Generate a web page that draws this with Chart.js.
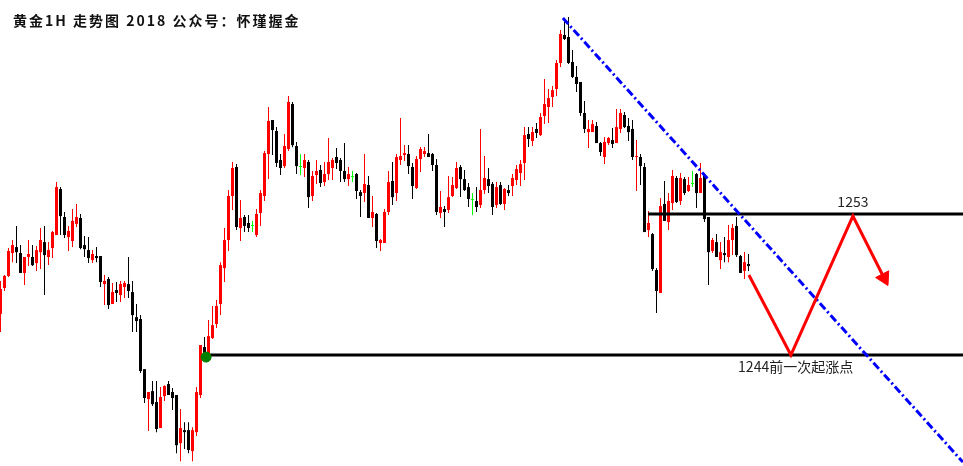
<!DOCTYPE html>
<html>
<head>
<meta charset="utf-8">
<title>黄金1H 走势图</title>
<script src="https://cdn.jsdelivr.net/npm/chart.js@4.4.1/dist/chart.umd.min.js"></script>
<style>
  html, body { margin: 0; padding: 0; background: #fff; }
  canvas { display: block; }
</style>
</head>
<body>
<canvas id="chart" width="963" height="466"></canvas>
<script>
// gold 1H candles
const opens = [
  1246.62,1248.28,1249.05,1250.51,1250.89,1250.51,1249.24,1250.26,1250.26,1249.87,
  1250.57,1251.21,1250.26,1250.83,1251.66,1254.60,1252.81,1251.53,1251.28,1252.37,
  1252.75,1251.02,1250.70,1250.06,1250.32,1250.32,1248.53,1248.86,1247.26,1248.15,
  1247.83,1248.34,1248.53,1248.02,1246.42,1246.30,1243.10,1241.19,1241.70,1241.00,
  1239.34,1241.38,1242.15,1241.64,1241.45,1238.38,1239.21,1239.21,1237.87,1239.08,
  1241.45,1244.51,1244.13,1245.09,1245.98,1247.26,1249.55,1251.34,1254.15,1256.00,
  1252.11,1252.81,1252.43,1252.24,1251.66,1253.07,1254.15,1256.83,1259.00,1258.30,
  1256.45,1256.06,1257.15,1260.02,1257.34,1256.00,1255.94,1256.32,1254.15,1255.49,
  1255.81,1255.04,1255.55,1255.94,1256.64,1256.45,1255.75,1255.23,1255.36,1255.55,
  1254.40,1254.34,1254.85,1252.75,1253.00,1251.15,1251.15,1253.13,1255.11,1254.34,
  1256.45,1256.77,1256.83,1256.00,1254.66,1256.51,1256.83,1256.89,1256.83,1256.13,
  1253.07,1253.32,1253.26,1254.15,1254.66,1256.00,1255.23,1254.72,1253.89,1253.83,
  1253.58,1254.53,1255.23,1254.92,1253.58,1254.85,1253.64,1254.53,1254.79,1255.17,
  1255.62,1256.26,1258.11,1257.66,1258.43,1258.04,1259.26,1259.83,1260.47,1260.98,
  1262.64,1264.43,1264.30,1262.70,1261.75,1261.43,1259.45,1258.23,1258.23,1258.62,
  1257.53,1256.64,1257.53,1257.72,1257.53,1258.43,1259.32,1258.62,1258.43,1256.64,
  1256.64,1256.00,1251.98,1251.72,1249.43,1247.96,1253.64,1252.49,1253.70,1255.30,
  1253.83,1255.23,1254.47,1254.92,1255.55,1254.34,1255.43,1252.81,1250.64,1251.21,
  1250.06,1250.51,1250.26,1251.34,1252.24,1250.32,1249.37,1249.81
];
const highs = [
  1248.73,1249.11,1250.83,1251.34,1252.24,1251.02,1250.26,1251.34,1251.02,1250.96,
  1252.11,1252.24,1251.21,1251.92,1255.04,1254.72,1253.13,1252.24,1253.32,1253.64,
  1253.00,1251.60,1251.53,1250.70,1250.89,1250.32,1249.11,1248.98,1248.60,1248.66,
  1248.73,1248.73,1250.26,1248.73,1247.26,1246.55,1243.10,1241.64,1242.34,1242.34,
  1241.96,1242.08,1242.34,1241.89,1241.45,1240.55,1239.72,1239.72,1239.40,1241.96,
  1244.64,1245.15,1246.23,1247.13,1247.51,1249.93,1252.11,1254.53,1256.32,1256.19,
  1253.89,1252.94,1252.94,1252.56,1253.32,1254.53,1257.02,1259.83,1259.00,1258.55,
  1256.83,1258.11,1260.53,1260.15,1257.60,1256.83,1256.83,1256.45,1255.75,1256.45,
  1256.13,1256.32,1257.85,1256.57,1257.21,1256.57,1257.53,1256.00,1255.75,1255.62,
  1254.53,1256.83,1255.43,1254.15,1253.07,1251.41,1253.32,1255.75,1256.32,1256.83,
  1259.13,1257.40,1257.40,1256.26,1256.70,1257.28,1257.28,1258.11,1256.89,1256.51,
  1254.47,1253.51,1255.43,1255.36,1256.32,1256.13,1255.81,1254.98,1254.34,1254.72,
  1258.43,1256.70,1255.94,1255.04,1255.04,1255.04,1254.66,1254.85,1255.55,1256.13,
  1256.45,1258.55,1258.55,1258.55,1258.81,1259.45,1261.62,1260.98,1261.17,1262.83,
  1264.75,1265.38,1265.57,1263.47,1262.45,1261.43,1260.21,1259.00,1259.00,1258.87,
  1257.60,1257.92,1257.92,1258.49,1259.70,1259.70,1259.51,1259.13,1259.00,1257.72,
  1256.83,1256.26,1253.19,1251.79,1249.55,1254.02,1255.11,1254.34,1255.81,1255.43,
  1255.62,1255.36,1255.36,1255.75,1255.62,1256.26,1255.62,1252.81,1251.47,1251.72,
  1251.21,1251.53,1252.30,1252.37,1252.81,1250.38,1250.57,1250.45
];
const lows = [
  1245.47,1248.09,1248.98,1249.93,1249.87,1249.24,1248.47,1249.68,1249.68,1249.37,
  1249.49,1247.83,1249.74,1250.19,1251.66,1251.66,1251.47,1250.64,1250.89,1252.17,
  1250.76,1250.26,1249.87,1249.87,1249.93,1248.34,1247.19,1246.94,1247.26,1247.38,
  1247.38,1247.64,1247.64,1245.47,1245.47,1242.85,1240.94,1239.15,1240.75,1239.08,
  1239.34,1241.07,1241.45,1240.49,1237.74,1237.23,1238.00,1237.74,1237.23,1238.83,
  1241.26,1244.00,1243.87,1245.02,1245.72,1246.55,1248.66,1250.64,1253.26,1251.98,
  1251.28,1251.85,1251.85,1251.85,1251.53,1252.24,1253.83,1255.23,1256.77,1256.00,
  1255.49,1255.94,1257.02,1257.27,1255.55,1255.49,1255.36,1253.38,1253.83,1254.92,
  1254.72,1254.79,1255.17,1255.17,1255.87,1255.04,1255.04,1254.79,1255.04,1253.96,
  1252.81,1253.77,1252.75,1252.17,1250.83,1250.64,1251.15,1252.94,1253.58,1253.83,
  1256.13,1256.38,1255.55,1253.96,1254.60,1255.68,1256.64,1256.64,1255.75,1252.94,
  1252.75,1252.17,1253.07,1254.08,1254.60,1254.08,1254.47,1253.45,1252.94,1253.13,
  1253.38,1254.28,1254.34,1252.94,1253.38,1253.58,1253.26,1254.15,1254.15,1254.85,
  1254.79,1255.17,1257.28,1257.34,1257.85,1257.98,1258.74,1258.81,1259.83,1260.53,
  1262.38,1264.11,1262.57,1261.68,1260.79,1259.26,1258.17,1257.21,1258.23,1257.53,
  1256.70,1256.19,1257.40,1257.21,1257.53,1258.17,1258.49,1257.66,1256.45,1254.47,
  1254.85,1251.85,1251.53,1249.37,1246.68,1247.96,1252.56,1251.98,1253.26,1253.70,
  1253.58,1254.21,1254.40,1254.72,1253.38,1254.34,1252.49,1248.47,1250.51,1250.26,
  1249.49,1249.93,1249.93,1250.38,1250.26,1249.24,1248.86,1249.37
];
const closes = [
  1248.21,1249.05,1250.64,1251.02,1250.57,1249.24,1250.26,1250.45,1249.74,1250.70,
  1251.34,1250.38,1250.70,1251.85,1254.72,1252.87,1251.66,1251.92,1252.56,1252.81,
  1250.83,1250.76,1250.19,1250.45,1250.19,1248.66,1248.73,1247.19,1248.02,1247.96,
  1248.53,1248.60,1248.09,1246.55,1246.17,1242.98,1241.26,1241.64,1240.87,1239.28,
  1241.32,1242.02,1241.45,1241.26,1238.25,1239.34,1239.08,1237.94,1239.21,1241.64,
  1244.64,1244.00,1245.21,1245.91,1247.13,1249.74,1251.34,1254.15,1255.94,1252.17,
  1252.75,1252.24,1252.11,1252.24,1253.00,1254.34,1256.89,1258.94,1258.36,1256.26,
  1255.94,1257.34,1260.15,1257.40,1256.06,1256.00,1256.45,1254.08,1255.43,1255.75,
  1254.98,1255.55,1256.32,1256.45,1256.26,1255.75,1255.23,1255.55,1255.36,1254.47,
  1254.15,1254.92,1252.75,1253.13,1251.28,1251.34,1253.13,1255.04,1254.08,1256.64,
  1256.70,1256.89,1256.06,1254.79,1256.51,1257.15,1257.02,1256.64,1256.13,1253.13,
  1253.45,1253.13,1254.08,1254.85,1255.94,1255.23,1254.53,1253.96,1253.89,1253.45,
  1254.53,1255.30,1254.79,1253.45,1254.72,1253.64,1254.60,1254.34,1255.30,1255.87,
  1256.19,1258.04,1257.79,1258.23,1258.17,1259.19,1260.02,1260.40,1260.91,1262.64,
  1264.49,1264.17,1262.64,1261.75,1261.30,1259.45,1258.43,1258.43,1258.74,1257.53,
  1256.96,1257.60,1257.85,1257.47,1258.55,1259.45,1258.55,1258.23,1256.64,1256.70,
  1256.06,1251.85,1252.43,1249.49,1248.09,1253.51,1252.56,1253.83,1255.43,1253.77,
  1255.30,1254.34,1254.85,1254.92,1254.34,1255.30,1252.68,1250.57,1251.34,1250.26,
  1250.57,1250.38,1251.34,1252.11,1250.38,1249.24,1249.93,1249.68
];

// drawn levels and projection (x in candle index units)
const resistLevel = 1253;
const supportLevel = 1244;
const resistStartX = 161.9;
const supportStartX = 51.1;
const dotX = 51.4, dotY = 1243.87;
const trendX = [140.6, 240.6];
const trendY = [1265.51, 1237.17];
const pathX = [187.1, 197.6, 213.1, 220.9];
const pathY = [1249.11, 1244.00, 1252.87, 1248.92];

const titleText = '黄金1H 走势图 2018 公众号：怀瑾握金';
const resistLabel = '1253';
const supportLabel = '1244前一次起涨点';
const supportLabelX = 184.4;

const xMin = -0.125, xMax = 240.625;
const yMin = 1236.92, yMax = 1266.66;

function candleColor(i) {
    if (closes[i] > opens[i]) return '#ff0000';
    if (closes[i] < opens[i]) return '#000000';
    return '#00ff00';
}
const colors = opens.map((o, i) => candleColor(i));

const wicks = opens.map((o, i) => ({ x: i, y: [lows[i], highs[i]] }));
const bodies = opens.map((o, i) => ({ x: i, y: [opens[i], closes[i]] }));

const textPlugin = {
    id: 'texts',
    afterDatasetsDraw(chart) {
        const { ctx, scales: { x, y } } = chart;
        ctx.save();
        ctx.fillStyle = '#111';
        ctx.textBaseline = 'middle';
        ctx.font = 'bold 14px "Noto Sans CJK SC"';
        ctx.letterSpacing = '2px';
        ctx.fillText(titleText, 13, 21);
        ctx.letterSpacing = '0px';

        ctx.fillStyle = '#222';
        ctx.font = '14px "Noto Sans CJK SC"';
        ctx.textAlign = 'center';
        ctx.fillText(resistLabel, x.getPixelForValue(pathX[2]), y.getPixelForValue(resistLevel) - 12);
        ctx.textAlign = 'left';
        ctx.fillText(supportLabel, x.getPixelForValue(supportLabelX), y.getPixelForValue(supportLevel) + 12);
        ctx.restore();
    }
};

new Chart(document.getElementById('chart'), {
    type: 'bar',
    data: {
        datasets: [
            {
                type: 'line',
                data: [{ x: dotX, y: dotY }],
                showLine: false,
                pointRadius: 5,
                pointBackgroundColor: '#008000',
                pointBorderColor: '#008000',
                order: 0
            },
            {
                type: 'line',
                data: pathX.map((v, i) => ({ x: v, y: pathY[i] })),
                borderColor: '#ff0000',
                borderWidth: 3,
                pointRadius: [0, 0, 0, 8.5],
                pointStyle: 'triangle',
                pointRotation: 153,
                pointBackgroundColor: '#ff0000',
                pointBorderColor: '#ff0000',
                pointBorderWidth: 1,
                tension: 0,
                order: 1
            },
            {
                type: 'line',
                data: trendX.map((v, i) => ({ x: v, y: trendY[i] })),
                borderColor: '#0000ff',
                borderWidth: 3,
                borderDash: [8, 3, 2, 3],
                pointRadius: 0,
                order: 1
            },
            {
                type: 'line',
                data: [{ x: resistStartX, y: resistLevel }, { x: xMax, y: resistLevel }],
                borderColor: '#000',
                borderWidth: 3,
                pointRadius: 0,
                order: 1
            },
            {
                type: 'line',
                data: [{ x: supportStartX, y: supportLevel }, { x: xMax, y: supportLevel }],
                borderColor: '#000',
                borderWidth: 3,
                pointRadius: 0,
                order: 1
            },
            {
                data: bodies,
                backgroundColor: colors,
                barThickness: 3,
                minBarLength: 1,
                grouped: false,
                borderWidth: 0,
                inflateAmount: 0,
                order: 2
            },
            {
                data: wicks,
                backgroundColor: colors,
                barThickness: 1,
                grouped: false,
                borderWidth: 0,
                inflateAmount: 0,
                order: 3
            }
        ]
    },
    options: {
        responsive: false,
        devicePixelRatio: 1,
        animation: false,
        layout: { padding: 0, autoPadding: false },
        plugins: {
            legend: { display: false },
            tooltip: { enabled: false }
        },
        scales: {
            x: { type: 'linear', min: xMin, max: xMax, display: false, offset: false },
            y: { type: 'linear', min: yMin, max: yMax, display: false }
        }
    },
    plugins: [textPlugin]
});
</script>
</body>
</html>
